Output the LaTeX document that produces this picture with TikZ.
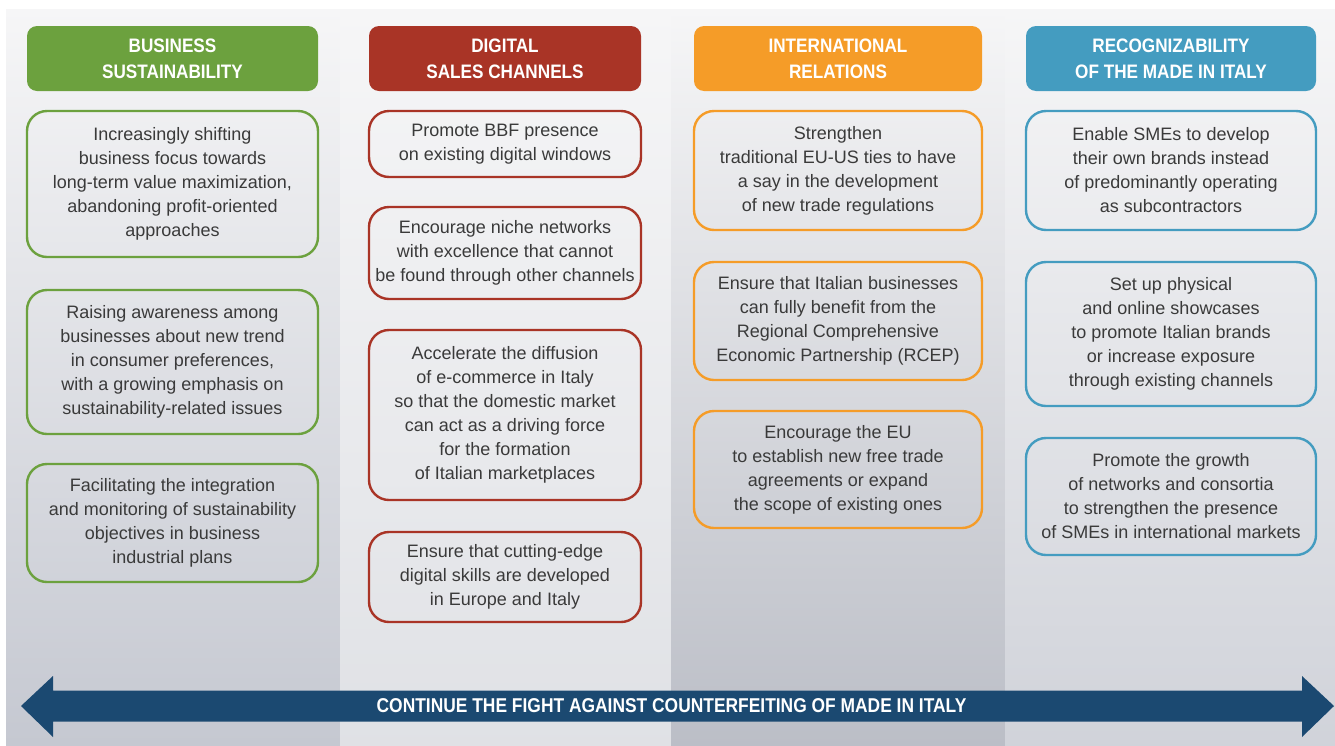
\documentclass[tikz,border=0pt]{standalone}
\usepackage{fontspec}
\setmainfont{Liberation Sans}
\newfontfamily\hdfont[FakeStretch=0.88]{Liberation Sans}
\newfontfamily\arfont[FakeStretch=0.87]{Liberation Sans}
\definecolor{cgreen}{HTML}{6CA13E}
\definecolor{cred}{HTML}{A93426}
\definecolor{corange}{HTML}{F59C28}
\definecolor{cblue}{HTML}{449CC0}
\definecolor{carrow}{HTML}{1B4971}
\definecolor{ctext}{HTML}{3A3A3A}
\definecolor{bgtop}{HTML}{F6F6F7}
\definecolor{bgmid}{HTML}{EBECEE}
\definecolor{bgbot}{HTML}{C5C8D1}
\tikzset{
  hdr/.style={fill=#1, rounded corners=10pt, inner sep=0pt, align=center,
    text=white, font=\hdfont\bfseries\fontsize{19.5}{26}\selectfont, minimum height=65pt},
  itembox/.style={draw=#1, line width=2.4pt, rounded corners=20pt, inner sep=0pt,
    align=center, text=ctext, font=\fontsize{18}{24}\selectfont},
  wA/.style={minimum width=291pt},
  wB/.style={minimum width=272pt},
  wC/.style={minimum width=288pt},
  wD/.style={minimum width=290pt},
}
\begin{document}
\begin{tikzpicture}[x=1pt,y=-1pt]
\useasboundingbox (0,0) rectangle (1335,745);
\fill[white] (0,0) rectangle (1335,745);
% column backgrounds
\shade[top color=bgtop, middle color=bgmid, bottom color=bgbot] (6,9) rectangle (340,745);
\shade[top color=bgtop, middle color=bgmid!80!bgtop, bottom color=bgbot!30!bgmid] (340,9) rectangle (671,745);
\shade[top color=bgtop, middle color=bgmid, bottom color=bgbot!95!black] (671,9) rectangle (1005,745);
\shade[top color=bgtop, middle color=bgmid, bottom color=bgbot!70!bgmid] (1005,9) rectangle (1335,745);

% column 1
\node[hdr=cgreen, wA] (h1) at (172.5,58.5) {BUSINESS\\SUSTAINABILITY};
\node[itembox=cgreen, wA, minimum height=146pt] (a1) at (172.5,184) {Increasingly shifting\\business focus towards\\long-term value maximization,\\abandoning profit-oriented\\approaches};
\node[itembox=cgreen, wA, minimum height=144pt] (a2) at (172.5,362) {Raising awareness among\\businesses about new trend\\in consumer preferences,\\with a growing emphasis on\\sustainability-related issues};
\node[itembox=cgreen, wA, minimum height=118pt] (a3) at (172.5,523) {Facilitating the integration\\and monitoring of sustainability\\objectives in business\\industrial plans};

% column 2
\node[hdr=cred, wB] (h2) at (505,58.5) {DIGITAL\\SALES CHANNELS};
\node[itembox=cred, wB, minimum height=66pt] (b1) at (505,144) {Promote BBF presence\\on existing digital windows};
\node[itembox=cred, wB, minimum height=92pt] (b2) at (505,253) {Encourage niche networks\\with excellence that cannot\\be found through other channels};
\node[itembox=cred, wB, minimum height=170pt] (b3) at (505,415) {Accelerate the diffusion\\of e-commerce in Italy\\so that the domestic market\\can act as a driving force\\for the formation\\of Italian marketplaces};
\node[itembox=cred, wB, minimum height=90pt] (b4) at (505,577) {Ensure that cutting-edge\\digital skills are developed\\in Europe and Italy};

% column 3
\node[hdr=corange, wC] (h3) at (838,58.5) {INTERNATIONAL\\RELATIONS};
\node[itembox=corange, wC, minimum height=119pt] (c1) at (838,170.5) {Strengthen\\traditional EU-US ties to have\\a say in the development\\of new trade regulations};
\node[itembox=corange, wC, minimum height=118pt] (c2) at (838,321) {Ensure that Italian businesses\\can fully benefit from the\\Regional Comprehensive\\Economic Partnership (RCEP)};
\node[itembox=corange, wC, minimum height=117pt] (c3) at (838,469.5) {Encourage the EU\\to establish new free trade\\agreements or expand\\the scope of existing ones};

% column 4
\node[hdr=cblue, wD] (h4) at (1171,58.5) {RECOGNIZABILITY\\OF THE MADE IN ITALY};
\node[itembox=cblue, wD, minimum height=119pt] (d1) at (1171,170.5) {Enable SMEs to develop\\their own brands instead\\of predominantly operating\\as subcontractors};
\node[itembox=cblue, wD, minimum height=144pt] (d2) at (1171,334) {Set up physical\\and online showcases\\to promote Italian brands\\or increase exposure\\through existing channels};
\node[itembox=cblue, wD, minimum height=117pt] (d3) at (1171,496.5) {Promote the growth\\of networks and consortia\\to strengthen the presence\\of SMEs in international markets};

% double arrow
\coordinate (ltip) at (21,706);
\coordinate (rtip) at (1334,706);
\fill[carrow] (ltip) -- (53,676) -- (53,690.5) -- (1302,690.5) -- (1302,676) -- (rtip)
  -- (1302,737) -- (1302,721.5) -- (53,721.5) -- (53,737) -- cycle;
\node[text=white, font=\arfont\bfseries\fontsize{20}{24}\selectfont, inner sep=0pt] (fight) at (671.5,706) {CONTINUE THE FIGHT AGAINST COUNTERFEITING OF MADE IN ITALY};
\end{tikzpicture}
\end{document}
